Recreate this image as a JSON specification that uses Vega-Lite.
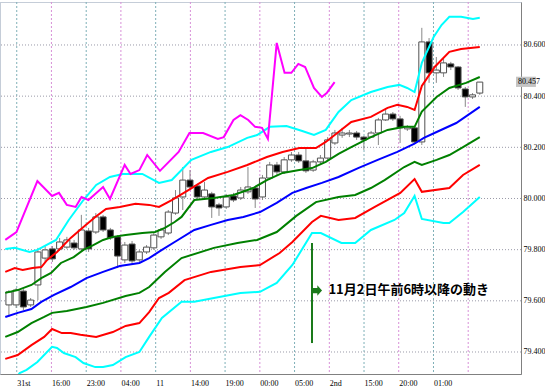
{
  "$schema": "https://vega.github.io/schema/vega-lite/v6.json",
  "width": 521,
  "height": 372,
  "autosize": {"type": "none"},
  "padding": {"left": 0, "top": 2, "right": 24, "bottom": 17},
  "background": "white",
  "config": {
    "view": {"stroke": "#8a9ab0", "strokeDash": [1, 1]},
    "axisX": {"labelFont": "Liberation Sans Narrow", "labelFontSize": 8, "labelColor": "#000000", "ticks": false, "grid": false, "domainColor": "#808080", "labelAlign": "left", "labelPadding": 5, "labelOverlap": false, "labelBound": false, "labelFlush": false},
    "axisY": {"labelFont": "Liberation Sans Narrow", "labelFontSize": 8, "labelColor": "#000000", "ticks": false, "grid": false, "domainColor": "#808080", "labelPadding": 2, "labelOverlap": false, "labelBound": false, "labelFlush": false}
  },
  "datasets": {
    "hgrid": [{"y": 79.4}, {"y": 79.6}, {"y": 79.8}, {"y": 80.0}, {"y": 80.2}, {"y": 80.4}, {"y": 80.6}],
    "vgrid": [
      {"k": 0, "p": 1.08}, {"k": 1, "p": 5.87}, {"k": 2, "p": 10.67}, {"k": 3, "p": 15.46}, {"k": 4, "p": 20.26}, {"k": 5, "p": 25.05}, {"k": 6, "p": 29.84},
      {"k": 7, "p": 34.64}, {"k": 8, "p": 39.43}, {"k": 9, "p": 44.23}, {"k": 10, "p": 49.02}, {"k": 11, "p": 53.81}, {"k": 12, "p": 58.61}, {"k": 13, "p": 63.40}
    ],
    "candles": [
      {"i": 0, "o": 79.584, "h": 79.642, "l": 79.537, "c": 79.635},
      {"i": 1, "o": 79.584, "h": 79.650, "l": 79.572, "c": 79.642},
      {"i": 2, "o": 79.638, "h": 79.646, "l": 79.564, "c": 79.576},
      {"i": 3, "o": 79.584, "h": 79.611, "l": 79.576, "c": 79.603},
      {"i": 4, "o": 79.662, "h": 79.807, "l": 79.603, "c": 79.791},
      {"i": 5, "o": 79.767, "h": 79.814, "l": 79.752, "c": 79.799},
      {"i": 6, "o": 79.803, "h": 79.814, "l": 79.752, "c": 79.764},
      {"i": 7, "o": 79.803, "h": 79.846, "l": 79.795, "c": 79.830},
      {"i": 8, "o": 79.810, "h": 79.850, "l": 79.803, "c": 79.838},
      {"i": 9, "o": 79.826, "h": 79.838, "l": 79.799, "c": 79.807},
      {"i": 10, "o": 79.803, "h": 79.936, "l": 79.795, "c": 79.877},
      {"i": 11, "o": 79.873, "h": 79.885, "l": 79.791, "c": 79.803},
      {"i": 12, "o": 79.869, "h": 79.943, "l": 79.861, "c": 79.928},
      {"i": 13, "o": 79.928, "h": 79.936, "l": 79.869, "c": 79.877},
      {"i": 14, "o": 79.877, "h": 79.885, "l": 79.838, "c": 79.846},
      {"i": 15, "o": 79.850, "h": 79.857, "l": 79.728, "c": 79.775},
      {"i": 16, "o": 79.760, "h": 79.830, "l": 79.748, "c": 79.818},
      {"i": 17, "o": 79.822, "h": 79.834, "l": 79.744, "c": 79.756},
      {"i": 18, "o": 79.760, "h": 79.799, "l": 79.752, "c": 79.791},
      {"i": 19, "o": 79.791, "h": 79.818, "l": 79.783, "c": 79.810},
      {"i": 20, "o": 79.807, "h": 79.865, "l": 79.799, "c": 79.857},
      {"i": 21, "o": 79.850, "h": 79.885, "l": 79.842, "c": 79.877},
      {"i": 22, "o": 79.865, "h": 79.955, "l": 79.857, "c": 79.947},
      {"i": 23, "o": 79.943, "h": 80.033, "l": 79.936, "c": 80.002},
      {"i": 24, "o": 80.006, "h": 80.123, "l": 79.955, "c": 80.072},
      {"i": 25, "o": 80.072, "h": 80.111, "l": 80.037, "c": 80.045},
      {"i": 26, "o": 80.049, "h": 80.057, "l": 79.998, "c": 80.006},
      {"i": 27, "o": 80.006, "h": 80.065, "l": 79.994, "c": 80.033},
      {"i": 28, "o": 80.018, "h": 80.026, "l": 79.924, "c": 79.967},
      {"i": 29, "o": 79.975, "h": 79.983, "l": 79.932, "c": 79.963},
      {"i": 30, "o": 79.967, "h": 80.018, "l": 79.959, "c": 80.006},
      {"i": 31, "o": 80.010, "h": 80.022, "l": 79.986, "c": 79.994},
      {"i": 32, "o": 80.002, "h": 80.045, "l": 79.994, "c": 80.033},
      {"i": 33, "o": 80.026, "h": 80.123, "l": 80.018, "c": 80.045},
      {"i": 34, "o": 80.041, "h": 80.049, "l": 79.963, "c": 79.998},
      {"i": 35, "o": 80.006, "h": 80.092, "l": 79.994, "c": 80.080},
      {"i": 36, "o": 80.080, "h": 80.143, "l": 80.072, "c": 80.131},
      {"i": 37, "o": 80.131, "h": 80.143, "l": 80.092, "c": 80.104},
      {"i": 38, "o": 80.104, "h": 80.162, "l": 80.096, "c": 80.151},
      {"i": 39, "o": 80.151, "h": 80.182, "l": 80.143, "c": 80.170},
      {"i": 40, "o": 80.170, "h": 80.182, "l": 80.139, "c": 80.147},
      {"i": 41, "o": 80.147, "h": 80.197, "l": 80.100, "c": 80.108},
      {"i": 42, "o": 80.111, "h": 80.151, "l": 80.104, "c": 80.143},
      {"i": 43, "o": 80.143, "h": 80.170, "l": 80.135, "c": 80.158},
      {"i": 44, "o": 80.158, "h": 80.240, "l": 80.151, "c": 80.229},
      {"i": 45, "o": 80.217, "h": 80.268, "l": 80.209, "c": 80.256},
      {"i": 46, "o": 80.248, "h": 80.276, "l": 80.237, "c": 80.256},
      {"i": 47, "o": 80.252, "h": 80.268, "l": 80.240, "c": 80.256},
      {"i": 48, "o": 80.256, "h": 80.264, "l": 80.229, "c": 80.240},
      {"i": 49, "o": 80.240, "h": 80.244, "l": 80.190, "c": 80.229},
      {"i": 50, "o": 80.240, "h": 80.264, "l": 80.237, "c": 80.256},
      {"i": 51, "o": 80.256, "h": 80.315, "l": 80.209, "c": 80.307},
      {"i": 52, "o": 80.307, "h": 80.346, "l": 80.303, "c": 80.330},
      {"i": 53, "o": 80.330, "h": 80.338, "l": 80.303, "c": 80.311},
      {"i": 54, "o": 80.311, "h": 80.323, "l": 80.217, "c": 80.276},
      {"i": 55, "o": 80.272, "h": 80.287, "l": 80.264, "c": 80.280},
      {"i": 56, "o": 80.276, "h": 80.283, "l": 80.213, "c": 80.221},
      {"i": 57, "o": 80.221, "h": 80.667, "l": 80.209, "c": 80.612},
      {"i": 58, "o": 80.612, "h": 80.627, "l": 80.452, "c": 80.491},
      {"i": 59, "o": 80.491, "h": 80.553, "l": 80.452, "c": 80.502},
      {"i": 60, "o": 80.491, "h": 80.549, "l": 80.475, "c": 80.530},
      {"i": 61, "o": 80.526, "h": 80.534, "l": 80.502, "c": 80.514},
      {"i": 62, "o": 80.514, "h": 80.518, "l": 80.424, "c": 80.432},
      {"i": 63, "o": 80.428, "h": 80.436, "l": 80.358, "c": 80.397},
      {"i": 64, "o": 80.397, "h": 80.412, "l": 80.389, "c": 80.405},
      {"i": 65, "o": 80.412, "h": 80.455, "l": 80.405, "c": 80.455}
    ],
    "lines": [
      {"s": "cu", "i": -0.5, "v": 79.803}, {"s": "cu", "i": 0.81, "v": 79.807}, {"s": "cu", "i": 2.84, "v": 79.791}, {"s": "cu", "i": 3.93, "v": 79.799}, {"s": "cu", "i": 6.5, "v": 79.838}, {"s": "cu", "i": 8.26, "v": 79.916}, {"s": "cu", "i": 10.29, "v": 79.994}, {"s": "cu", "i": 12.05, "v": 80.053}, {"s": "cu", "i": 13.95, "v": 80.084}, {"s": "cu", "i": 15.71, "v": 80.096}, {"s": "cu", "i": 18.42, "v": 80.096}, {"s": "cu", "i": 20.72, "v": 80.061}, {"s": "cu", "i": 22.48, "v": 80.072}, {"s": "cu", "i": 25.19, "v": 80.151}, {"s": "cu", "i": 27.89, "v": 80.182}, {"s": "cu", "i": 30.2, "v": 80.201}, {"s": "cu", "i": 32.9, "v": 80.237}, {"s": "cu", "i": 34.26, "v": 80.248}, {"s": "cu", "i": 36.02, "v": 80.28}, {"s": "cu", "i": 38.32, "v": 80.283}, {"s": "cu", "i": 40.49, "v": 80.264}, {"s": "cu", "i": 42.11, "v": 80.248}, {"s": "cu", "i": 43.74, "v": 80.268}, {"s": "cu", "i": 45.5, "v": 80.338}, {"s": "cu", "i": 47.26, "v": 80.385}, {"s": "cu", "i": 49.97, "v": 80.416}, {"s": "cu", "i": 52.27, "v": 80.436}, {"s": "cu", "i": 53.89, "v": 80.444}, {"s": "cu", "i": 54.98, "v": 80.432}, {"s": "cu", "i": 56, "v": 80.416}, {"s": "cu", "i": 57, "v": 80.53}, {"s": "cu", "i": 58.63, "v": 80.631}, {"s": "cu", "i": 59.72, "v": 80.678}, {"s": "cu", "i": 60.8, "v": 80.71}, {"s": "cu", "i": 62.42, "v": 80.71}, {"s": "cu", "i": 64.05, "v": 80.702}, {"s": "cu", "i": 65, "v": 80.706},
      {"s": "ru", "i": -0.5, "v": 79.713}, {"s": "ru", "i": 0.81, "v": 79.728}, {"s": "ru", "i": 1.9, "v": 79.721}, {"s": "ru", "i": 3.25, "v": 79.728}, {"s": "ru", "i": 4.47, "v": 79.732}, {"s": "ru", "i": 5.28, "v": 79.76}, {"s": "ru", "i": 6.64, "v": 79.791}, {"s": "ru", "i": 8.53, "v": 79.846}, {"s": "ru", "i": 10.29, "v": 79.889}, {"s": "ru", "i": 11.92, "v": 79.928}, {"s": "ru", "i": 13.41, "v": 79.959}, {"s": "ru", "i": 15.3, "v": 79.967}, {"s": "ru", "i": 17.47, "v": 79.979}, {"s": "ru", "i": 19.36, "v": 79.975}, {"s": "ru", "i": 20.72, "v": 79.967}, {"s": "ru", "i": 22.48, "v": 79.994}, {"s": "ru", "i": 24.78, "v": 80.033}, {"s": "ru", "i": 27.49, "v": 80.08}, {"s": "ru", "i": 30.2, "v": 80.104}, {"s": "ru", "i": 32.9, "v": 80.131}, {"s": "ru", "i": 35.61, "v": 80.162}, {"s": "ru", "i": 37.78, "v": 80.182}, {"s": "ru", "i": 40.08, "v": 80.197}, {"s": "ru", "i": 42.38, "v": 80.197}, {"s": "ru", "i": 43.74, "v": 80.221}, {"s": "ru", "i": 45.5, "v": 80.26}, {"s": "ru", "i": 47.26, "v": 80.299}, {"s": "ru", "i": 49.97, "v": 80.319}, {"s": "ru", "i": 52.27, "v": 80.354}, {"s": "ru", "i": 53.62, "v": 80.366}, {"s": "ru", "i": 54.98, "v": 80.358}, {"s": "ru", "i": 56, "v": 80.346}, {"s": "ru", "i": 57, "v": 80.44}, {"s": "ru", "i": 58.77, "v": 80.514}, {"s": "ru", "i": 60.8, "v": 80.573}, {"s": "ru", "i": 62.42, "v": 80.584}, {"s": "ru", "i": 65, "v": 80.592},
      {"s": "gu", "i": -0.5, "v": 79.631}, {"s": "gu", "i": 1.22, "v": 79.642}, {"s": "gu", "i": 3.11, "v": 79.662}, {"s": "gu", "i": 4.47, "v": 79.689}, {"s": "gu", "i": 5.82, "v": 79.709}, {"s": "gu", "i": 7.18, "v": 79.748}, {"s": "gu", "i": 8.94, "v": 79.771}, {"s": "gu", "i": 10.29, "v": 79.799}, {"s": "gu", "i": 11.65, "v": 79.818}, {"s": "gu", "i": 13.0, "v": 79.838}, {"s": "gu", "i": 14.35, "v": 79.85}, {"s": "gu", "i": 16.11, "v": 79.857}, {"s": "gu", "i": 18.42, "v": 79.865}, {"s": "gu", "i": 20.18, "v": 79.869}, {"s": "gu", "i": 21.53, "v": 79.885}, {"s": "gu", "i": 22.88, "v": 79.908}, {"s": "gu", "i": 23.83, "v": 79.928}, {"s": "gu", "i": 25.59, "v": 79.994}, {"s": "gu", "i": 28.3, "v": 80.002}, {"s": "gu", "i": 31.0, "v": 80.014}, {"s": "gu", "i": 33.72, "v": 80.041}, {"s": "gu", "i": 35.61, "v": 80.072}, {"s": "gu", "i": 37.78, "v": 80.1}, {"s": "gu", "i": 40.08, "v": 80.111}, {"s": "gu", "i": 41.84, "v": 80.119}, {"s": "gu", "i": 43.74, "v": 80.143}, {"s": "gu", "i": 45.5, "v": 80.174}, {"s": "gu", "i": 47.26, "v": 80.201}, {"s": "gu", "i": 49.97, "v": 80.24}, {"s": "gu", "i": 52.27, "v": 80.268}, {"s": "gu", "i": 54.57, "v": 80.28}, {"s": "gu", "i": 56, "v": 80.28}, {"s": "gu", "i": 57, "v": 80.34}, {"s": "gu", "i": 59.04, "v": 80.397}, {"s": "gu", "i": 60.8, "v": 80.432}, {"s": "gu", "i": 63.1, "v": 80.452}, {"s": "gu", "i": 65, "v": 80.475},
      {"s": "b", "i": -0.5, "v": 79.537}, {"s": "b", "i": 1.22, "v": 79.553}, {"s": "b", "i": 3.11, "v": 79.568}, {"s": "b", "i": 4.47, "v": 79.596}, {"s": "b", "i": 6.23, "v": 79.623}, {"s": "b", "i": 8.53, "v": 79.654}, {"s": "b", "i": 10.7, "v": 79.689}, {"s": "b", "i": 13.0, "v": 79.713}, {"s": "b", "i": 15.3, "v": 79.736}, {"s": "b", "i": 18.01, "v": 79.748}, {"s": "b", "i": 19.36, "v": 79.767}, {"s": "b", "i": 21.12, "v": 79.799}, {"s": "b", "i": 22.88, "v": 79.83}, {"s": "b", "i": 25.59, "v": 79.877}, {"s": "b", "i": 27.89, "v": 79.897}, {"s": "b", "i": 30.2, "v": 79.916}, {"s": "b", "i": 32.36, "v": 79.928}, {"s": "b", "i": 34.66, "v": 79.947}, {"s": "b", "i": 36.97, "v": 79.983}, {"s": "b", "i": 39.13, "v": 80.022}, {"s": "b", "i": 41.03, "v": 80.041}, {"s": "b", "i": 43.2, "v": 80.061}, {"s": "b", "i": 45.5, "v": 80.084}, {"s": "b", "i": 48.21, "v": 80.119}, {"s": "b", "i": 50.91, "v": 80.151}, {"s": "b", "i": 53.62, "v": 80.182}, {"s": "b", "i": 55.92, "v": 80.213}, {"s": "b", "i": 57.28, "v": 80.237}, {"s": "b", "i": 59.04, "v": 80.26}, {"s": "b", "i": 61.75, "v": 80.295}, {"s": "b", "i": 65, "v": 80.358},
      {"s": "gl", "i": -0.5, "v": 79.459}, {"s": "gl", "i": 1.22, "v": 79.478}, {"s": "gl", "i": 3.11, "v": 79.513}, {"s": "gl", "i": 4.87, "v": 79.537}, {"s": "gl", "i": 5.96, "v": 79.553}, {"s": "gl", "i": 7.99, "v": 79.56}, {"s": "gl", "i": 10.7, "v": 79.576}, {"s": "gl", "i": 13.0, "v": 79.592}, {"s": "gl", "i": 16.11, "v": 79.619}, {"s": "gl", "i": 18.01, "v": 79.631}, {"s": "gl", "i": 19.36, "v": 79.654}, {"s": "gl", "i": 21.53, "v": 79.713}, {"s": "gl", "i": 23.83, "v": 79.767}, {"s": "gl", "i": 28.3, "v": 79.807}, {"s": "gl", "i": 31.55, "v": 79.826}, {"s": "gl", "i": 34.26, "v": 79.838}, {"s": "gl", "i": 36.97, "v": 79.869}, {"s": "gl", "i": 39.67, "v": 79.932}, {"s": "gl", "i": 42.38, "v": 79.986}, {"s": "gl", "i": 45.5, "v": 80.006}, {"s": "gl", "i": 47.8, "v": 80.014}, {"s": "gl", "i": 49.97, "v": 80.041}, {"s": "gl", "i": 51.86, "v": 80.072}, {"s": "gl", "i": 54.57, "v": 80.123}, {"s": "gl", "i": 56, "v": 80.143}, {"s": "gl", "i": 57, "v": 80.131}, {"s": "gl", "i": 59.04, "v": 80.151}, {"s": "gl", "i": 60.8, "v": 80.17}, {"s": "gl", "i": 62.69, "v": 80.201}, {"s": "gl", "i": 65, "v": 80.24},
      {"s": "rl", "i": -0.5, "v": 79.373}, {"s": "rl", "i": 1.22, "v": 79.388}, {"s": "rl", "i": 3.11, "v": 79.427}, {"s": "rl", "i": 4.87, "v": 79.459}, {"s": "rl", "i": 5.96, "v": 79.49}, {"s": "rl", "i": 7.31, "v": 79.474}, {"s": "rl", "i": 8.53, "v": 79.474}, {"s": "rl", "i": 9.88, "v": 79.467}, {"s": "rl", "i": 12.05, "v": 79.459}, {"s": "rl", "i": 14.35, "v": 79.478}, {"s": "rl", "i": 16.11, "v": 79.502}, {"s": "rl", "i": 18.01, "v": 79.513}, {"s": "rl", "i": 19.36, "v": 79.556}, {"s": "rl", "i": 20.72, "v": 79.611}, {"s": "rl", "i": 22.07, "v": 79.631}, {"s": "rl", "i": 24.24, "v": 79.681}, {"s": "rl", "i": 27.89, "v": 79.713}, {"s": "rl", "i": 31.96, "v": 79.732}, {"s": "rl", "i": 34.66, "v": 79.74}, {"s": "rl", "i": 37.37, "v": 79.787}, {"s": "rl", "i": 39.13, "v": 79.83}, {"s": "rl", "i": 41.84, "v": 79.908}, {"s": "rl", "i": 43.06, "v": 79.932}, {"s": "rl", "i": 45.5, "v": 79.916}, {"s": "rl", "i": 47.8, "v": 79.924}, {"s": "rl", "i": 50.51, "v": 79.967}, {"s": "rl", "i": 54.03, "v": 80.022}, {"s": "rl", "i": 56, "v": 80.076}, {"s": "rl", "i": 57, "v": 80.026}, {"s": "rl", "i": 60.8, "v": 80.041}, {"s": "rl", "i": 62.69, "v": 80.092}, {"s": "rl", "i": 65, "v": 80.131},
      {"s": "cl", "i": -0.5, "v": 79.244}, {"s": "cl", "i": 1.49, "v": 79.318}, {"s": "cl", "i": 2.44, "v": 79.33}, {"s": "cl", "i": 3.93, "v": 79.361}, {"s": "cl", "i": 5.96, "v": 79.42}, {"s": "cl", "i": 6.64, "v": 79.416}, {"s": "cl", "i": 7.58, "v": 79.396}, {"s": "cl", "i": 9.21, "v": 79.38}, {"s": "cl", "i": 10.29, "v": 79.357}, {"s": "cl", "i": 11.92, "v": 79.341}, {"s": "cl", "i": 13.0, "v": 79.341}, {"s": "cl", "i": 14.35, "v": 79.349}, {"s": "cl", "i": 16.11, "v": 79.38}, {"s": "cl", "i": 18.01, "v": 79.4}, {"s": "cl", "i": 19.36, "v": 79.459}, {"s": "cl", "i": 21.12, "v": 79.533}, {"s": "cl", "i": 23.83, "v": 79.596}, {"s": "cl", "i": 25.59, "v": 79.596}, {"s": "cl", "i": 28.3, "v": 79.611}, {"s": "cl", "i": 31.96, "v": 79.631}, {"s": "cl", "i": 34.66, "v": 79.635}, {"s": "cl", "i": 36.97, "v": 79.67}, {"s": "cl", "i": 39.13, "v": 79.74}, {"s": "cl", "i": 41.84, "v": 79.865}, {"s": "cl", "i": 43.06, "v": 79.865}, {"s": "cl", "i": 45.9, "v": 79.826}, {"s": "cl", "i": 47.8, "v": 79.826}, {"s": "cl", "i": 49.97, "v": 79.877}, {"s": "cl", "i": 53.22, "v": 79.916}, {"s": "cl", "i": 54.57, "v": 79.943}, {"s": "cl", "i": 56, "v": 80.01}, {"s": "cl", "i": 57, "v": 79.92}, {"s": "cl", "i": 59.99, "v": 79.904}, {"s": "cl", "i": 60.8, "v": 79.904}, {"s": "cl", "i": 62.69, "v": 79.947}, {"s": "cl", "i": 65, "v": 80.006},
      {"s": "m", "i": -0.5, "v": 79.838}, {"s": "m", "i": 1.04, "v": 79.869}, {"s": "m", "i": 3.93, "v": 80.068}, {"s": "m", "i": 5.96, "v": 80.01}, {"s": "m", "i": 6.91, "v": 80.022}, {"s": "m", "i": 7.99, "v": 79.975}, {"s": "m", "i": 9.21, "v": 79.967}, {"s": "m", "i": 10.02, "v": 80.006}, {"s": "m", "i": 10.97, "v": 79.994}, {"s": "m", "i": 13.0, "v": 80.045}, {"s": "m", "i": 13.95, "v": 79.998}, {"s": "m", "i": 15.98, "v": 80.131}, {"s": "m", "i": 16.79, "v": 80.096}, {"s": "m", "i": 18.01, "v": 80.111}, {"s": "m", "i": 19.09, "v": 80.17}, {"s": "m", "i": 20.85, "v": 80.108}, {"s": "m", "i": 23.43, "v": 80.182}, {"s": "m", "i": 24.92, "v": 80.256}, {"s": "m", "i": 26.81, "v": 80.256}, {"s": "m", "i": 28.84, "v": 80.233}, {"s": "m", "i": 29.66, "v": 80.24}, {"s": "m", "i": 31.0, "v": 80.307}, {"s": "m", "i": 31.96, "v": 80.326}, {"s": "m", "i": 33.04, "v": 80.307}, {"s": "m", "i": 33.99, "v": 80.28}, {"s": "m", "i": 34.94, "v": 80.276}, {"s": "m", "i": 35.75, "v": 80.233}, {"s": "m", "i": 36.97, "v": 80.608}, {"s": "m", "i": 38.05, "v": 80.491}, {"s": "m", "i": 38.99, "v": 80.491}, {"s": "m", "i": 39.95, "v": 80.526}, {"s": "m", "i": 40.89, "v": 80.514}, {"s": "m", "i": 42.11, "v": 80.432}, {"s": "m", "i": 43.2, "v": 80.397}, {"s": "m", "i": 43.87, "v": 80.412}, {"s": "m", "i": 44.96, "v": 80.455}
    ],
    "note": [{"i": 41.84, "v1": 79.435, "v2": 79.826, "ai": 42.5, "av": 79.640, "ti": 44.1, "tv": 79.642, "label": "11月2日午前6時以降の動き"}],
    "price": [{"i1": 70.0, "i2": 72.75, "v1": 80.436, "v2": 80.476, "v": 80.457}]
  },
  "layer": [
    {
      "data": {"name": "vgrid"},
      "mark": {"type": "rule", "strokeDash": [2, 2], "strokeWidth": 1},
      "encoding": {
        "x": {"field": "p", "type": "quantitative", "title": null, "scale": {"domain": [-0.54, 70.0], "nice": false, "zero": false},
              "axis": {"values": [1.08, 5.87, 10.67, 15.46, 20.26, 25.05, 29.84, 34.64, 39.43, 44.23, 49.02, 53.81, 58.61, 63.40],
                       "labelExpr": "['31st','16:00','23:00','04:00','11','14:00','19:00','00:00','05:00','2nd','15:00','20:00','01:00',''][round((datum.value-1.08)/4.794)]"}},
        "color": {"condition": {"test": "datum.k % 2 == 0", "value": "#7fb0b8"}, "value": "#d890d8"}
      }
    },
    {
      "data": {"name": "hgrid"},
      "mark": {"type": "rule", "strokeDash": [1, 2], "strokeWidth": 1, "color": "#9a9aa8"},
      "encoding": {
        "y": {"field": "y", "type": "quantitative", "title": null, "scale": {"domain": [79.314, 80.768], "nice": false, "zero": false},
              "axis": {"orient": "right", "values": [79.4, 79.6, 79.8, 80.0, 80.2, 80.4, 80.6], "format": ".3f"}}
      }
    },
    {
      "data": {"name": "candles"},
      "mark": {"type": "rule", "color": "#888888", "strokeWidth": 1},
      "encoding": {
        "x": {"field": "i", "type": "quantitative", "title": null, "scale": {"domain": [-0.54, 70.0], "nice": false, "zero": false}},
        "y": {"field": "l", "type": "quantitative", "title": null, "scale": {"domain": [79.314, 80.768], "nice": false, "zero": false}},
        "y2": {"field": "h"}
      }
    },
    {
      "data": {"name": "candles"},
      "mark": {"type": "bar", "size": 6, "strokeWidth": 1, "stroke": "#505050"},
      "encoding": {
        "x": {"field": "i", "type": "quantitative", "title": null, "scale": {"domain": [-0.54, 70.0], "nice": false, "zero": false}},
        "y": {"field": "o", "type": "quantitative", "title": null, "scale": {"domain": [79.314, 80.768], "nice": false, "zero": false}},
        "y2": {"field": "c"},
        "fill": {"condition": {"test": "datum.c >= datum.o", "value": "#ffffff"}, "value": "#000000"}
      }
    },
    {
      "data": {"name": "lines"},
      "mark": {"type": "line", "strokeWidth": 2, "clip": true, "interpolate": "linear"},
      "encoding": {
        "x": {"field": "i", "type": "quantitative", "title": null, "scale": {"domain": [-0.54, 70.0], "nice": false, "zero": false}},
        "y": {"field": "v", "type": "quantitative", "title": null, "scale": {"domain": [79.314, 80.768], "nice": false, "zero": false}},
        "color": {"field": "s", "type": "nominal", "legend": null,
                  "scale": {"domain": ["cu", "ru", "gu", "b", "gl", "rl", "cl", "m"], "range": ["#00ffff", "#ff0000", "#008000", "#0000ff", "#008000", "#ff0000", "#00ffff", "#ff00ff"]}}
      }
    },
    {
      "data": {"name": "note"},
      "mark": {"type": "rule", "color": "#1a7a1a", "strokeWidth": 2},
      "encoding": {
        "x": {"field": "i", "type": "quantitative", "title": null, "scale": {"domain": [-0.54, 70.0], "nice": false, "zero": false}},
        "y": {"field": "v1", "type": "quantitative", "title": null, "scale": {"domain": [79.314, 80.768], "nice": false, "zero": false}},
        "y2": {"field": "v2"}
      }
    },
    {
      "data": {"name": "note"},
      "mark": {"type": "point", "shape": "M -1 -0.5 L 0.1 -0.5 L 0.1 -1 L 1 0 L 0.1 1 L 0.1 0.5 L -1 0.5 Z", "size": 110, "filled": true, "color": "#1a7a1a", "opacity": 1},
      "encoding": {
        "x": {"field": "ai", "type": "quantitative", "title": null, "scale": {"domain": [-0.54, 70.0], "nice": false, "zero": false}},
        "y": {"field": "av", "type": "quantitative", "title": null, "scale": {"domain": [79.314, 80.768], "nice": false, "zero": false}}
      }
    },
    {
      "data": {"name": "note"},
      "mark": {"type": "text", "align": "left", "baseline": "middle", "font": "Noto Sans CJK JP", "fontSize": 13, "fontWeight": "bold", "color": "#000000"},
      "encoding": {
        "x": {"field": "ti", "type": "quantitative", "title": null, "scale": {"domain": [-0.54, 70.0], "nice": false, "zero": false}},
        "y": {"field": "tv", "type": "quantitative", "title": null, "scale": {"domain": [79.314, 80.768], "nice": false, "zero": false}},
        "text": {"field": "label"}
      }
    },
    {
      "data": {"name": "price"},
      "mark": {"type": "rect", "color": "#c4c4c4"},
      "encoding": {
        "x": {"field": "i1", "type": "quantitative", "title": null, "scale": {"domain": [-0.54, 70.0], "nice": false, "zero": false}},
        "x2": {"field": "i2"},
        "y": {"field": "v1", "type": "quantitative", "title": null, "scale": {"domain": [79.314, 80.768], "nice": false, "zero": false}},
        "y2": {"field": "v2"}
      }
    },
    {
      "data": {"name": "price"},
      "mark": {"type": "text", "align": "left", "baseline": "middle", "font": "Liberation Sans Narrow", "fontSize": 8, "color": "#000000", "dx": 2},
      "encoding": {
        "x": {"field": "i1", "type": "quantitative", "title": null, "scale": {"domain": [-0.54, 70.0], "nice": false, "zero": false}},
        "y": {"field": "v", "type": "quantitative", "title": null, "scale": {"domain": [79.314, 80.768], "nice": false, "zero": false}},
        "text": {"field": "v", "format": ".3f"}
      }
    }
  ]
}
